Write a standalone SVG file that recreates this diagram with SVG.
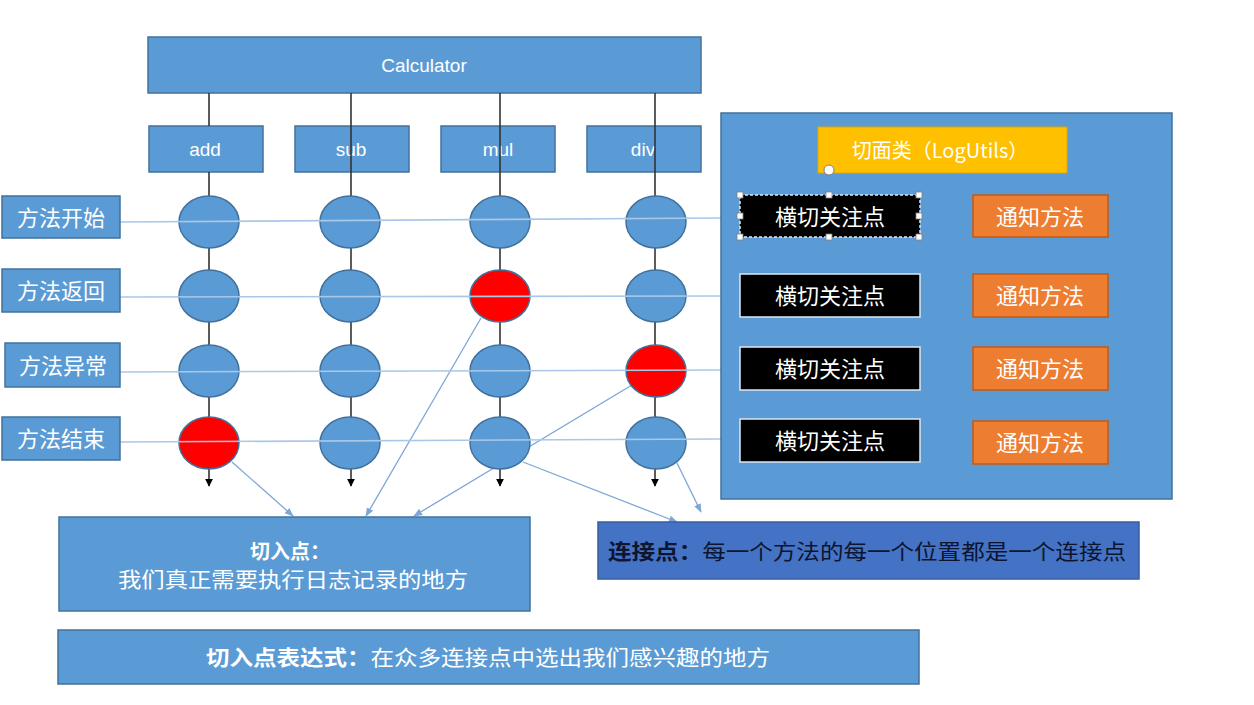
<svg xmlns="http://www.w3.org/2000/svg" width="1254" height="705" viewBox="0 0 1254 705">
<defs>
<style>
.blue{fill:#5B9BD5;stroke:#41719C;stroke-width:1.5}
.ell{fill:#5B9BD5;stroke:#41719C;stroke-width:1.5}
.red{fill:#FF0000;stroke:#41719C;stroke-width:1.5}
.blk{fill:#000000;stroke:#DDE8F5;stroke-width:1.5}
.org{fill:#ED7D31;stroke:#C55A11;stroke-width:1.5}
.vl{stroke:#333333;stroke-width:1.6;fill:none}
.hl{stroke:#A9C8E8;stroke-width:1.6;fill:none}
.al{stroke:#7EA6D6;stroke-width:1.3;fill:none}
.t{font-family:"Noto Sans CJK SC","Liberation Sans",sans-serif;fill:#FFFFFF;text-anchor:middle;dominant-baseline:central}
.en{font-family:"Liberation Sans","Noto Sans",sans-serif;fill:#FFFFFF;text-anchor:middle;dominant-baseline:central;font-size:19px}
.h{fill:#FFFFFF;stroke:#7F7F7F;stroke-width:0.8}
</style>
<marker id="ab" viewBox="0 0 10 10" refX="9" refY="5" markerWidth="8" markerHeight="8" orient="auto" markerUnits="userSpaceOnUse"><path d="M0,0 L10,5 L0,10 z" fill="#000"/></marker>
<marker id="ai" viewBox="0 0 10 10" refX="9" refY="5" markerWidth="9" markerHeight="9" orient="auto" markerUnits="userSpaceOnUse"><path d="M0,1 L10,5 L0,9 z" fill="#7EA6D6"/></marker>
</defs>
<rect width="1254" height="705" fill="#FFFFFF"/>

<g id="calculator"><rect class="blue" x="148" y="37" width="553" height="56"/><text class="en" x="424" y="65">Calculator</text></g>
<g id="add"><rect class="blue" x="149" y="126" width="114" height="46"/><text class="en" x="205" y="149">add</text></g>
<g id="sub"><rect class="blue" x="295" y="126" width="114" height="46"/><text class="en" x="351" y="149">sub</text></g>
<g id="mul"><rect class="blue" x="441" y="126" width="114" height="46"/><text class="en" x="498" y="149">mul</text></g>
<g id="div"><rect class="blue" x="587" y="126" width="114" height="46"/><text class="en" x="643" y="149">div</text></g>

<g id="connectors">
<line class="vl" x1="209" y1="93" x2="209" y2="126"/>
<line class="vl" x1="209" y1="172" x2="209" y2="486" marker-end="url(#ab)"/>
<line class="vl" x1="351" y1="93" x2="351" y2="486" marker-end="url(#ab)"/>
<line class="vl" x1="500" y1="93" x2="500" y2="486" marker-end="url(#ab)"/>
<line class="vl" x1="655" y1="93" x2="655" y2="486" marker-end="url(#ab)"/>
<line class="al" x1="232" y1="462" x2="293" y2="516" marker-end="url(#ai)"/>
<line class="al" x1="481" y1="318" x2="366" y2="516" marker-end="url(#ai)"/>
<line class="al" x1="632" y1="385" x2="414" y2="516" marker-end="url(#ai)"/>
<line class="al" x1="523" y1="462" x2="677" y2="522" marker-end="url(#ai)"/>
<line class="al" x1="677" y1="463" x2="701" y2="512" marker-end="url(#ai)"/>
</g>

<g id="joinpoints">
<ellipse class="ell" cx="209" cy="222" rx="30" ry="26"/>
<ellipse class="ell" cx="350" cy="222" rx="30" ry="26"/>
<ellipse class="ell" cx="500" cy="222" rx="30" ry="26"/>
<ellipse class="ell" cx="656" cy="222" rx="30" ry="26"/>
<ellipse class="ell" cx="209" cy="296" rx="30" ry="26"/>
<ellipse class="ell" cx="350" cy="296" rx="30" ry="26"/>
<ellipse class="red" cx="500" cy="296" rx="30" ry="26"/>
<ellipse class="ell" cx="656" cy="296" rx="30" ry="26"/>
<ellipse class="ell" cx="209" cy="371" rx="30" ry="26"/>
<ellipse class="ell" cx="350" cy="371" rx="30" ry="26"/>
<ellipse class="ell" cx="500" cy="371" rx="30" ry="26"/>
<ellipse class="red" cx="656" cy="371" rx="30" ry="26"/>
<ellipse class="red" cx="209" cy="443" rx="30" ry="26"/>
<ellipse class="ell" cx="350" cy="443" rx="30" ry="26"/>
<ellipse class="ell" cx="500" cy="443" rx="30" ry="26"/>
<ellipse class="ell" cx="656" cy="443" rx="30" ry="26"/>
</g>

<g id="rowlines">
<line class="hl" x1="120" y1="222" x2="721" y2="218"/>
<line class="hl" x1="120" y1="297" x2="721" y2="296"/>
<line class="hl" x1="120" y1="372" x2="721" y2="370"/>
<line class="hl" x1="120" y1="442" x2="721" y2="439"/>
</g>

<g id="row-start"><rect class="blue" x="2" y="196" width="118" height="42"/><text class="t" x="61" y="216" font-size="22">方法开始</text></g>
<g id="row-return"><rect class="blue" x="2" y="269" width="118" height="43"/><text class="t" x="61" y="289" font-size="22">方法返回</text></g>
<g id="row-exception"><rect class="blue" x="5" y="343" width="115" height="44"/><text class="t" x="63" y="364" font-size="22">方法异常</text></g>
<g id="row-end"><rect class="blue" x="2" y="417" width="118" height="43"/><text class="t" x="61" y="437" font-size="22">方法结束</text></g>

<g id="aspect-panel"><rect class="blue" x="721" y="113" width="451" height="386"/></g>
<g id="aspect-class"><rect x="818" y="127" width="249" height="46" fill="#FFC000" stroke="#E0A800" stroke-width="1"/><text class="t" x="940" y="149" font-size="20">切面类（LogUtils）</text>
<circle cx="829" cy="170" r="5" fill="#FFFFFF" stroke="#7F7F7F" stroke-width="1"/></g>

<g id="concern-1"><rect class="blk" x="740" y="195" width="180" height="42" stroke-dasharray="3 2"/><text class="t" x="830" y="215" font-size="22">横切关注点</text>
<rect class="h" x="737" y="192" width="6" height="6"/><rect class="h" x="826" y="192" width="6" height="6"/><rect class="h" x="916" y="192" width="6" height="6"/>
<rect class="h" x="737" y="213" width="6" height="6"/><rect class="h" x="916" y="213" width="6" height="6"/>
<rect class="h" x="737" y="234" width="6" height="6"/><rect class="h" x="826" y="234" width="6" height="6"/><rect class="h" x="916" y="234" width="6" height="6"/></g>
<g id="concern-2"><rect class="blk" x="740" y="274" width="180" height="43"/><text class="t" x="830" y="294" font-size="22">横切关注点</text></g>
<g id="concern-3"><rect class="blk" x="740" y="347" width="180" height="43"/><text class="t" x="830" y="367" font-size="22">横切关注点</text></g>
<g id="concern-4"><rect class="blk" x="740" y="419" width="180" height="43"/><text class="t" x="830" y="439" font-size="22">横切关注点</text></g>

<g id="advice-1"><rect class="org" x="973" y="195" width="135" height="42"/><text class="t" x="1040" y="215" font-size="22">通知方法</text></g>
<g id="advice-2"><rect class="org" x="973" y="274" width="135" height="43"/><text class="t" x="1040" y="294" font-size="22">通知方法</text></g>
<g id="advice-3"><rect class="org" x="973" y="347" width="135" height="43"/><text class="t" x="1040" y="367" font-size="22">通知方法</text></g>
<g id="advice-4"><rect class="org" x="973" y="421" width="135" height="43"/><text class="t" x="1040" y="441" font-size="22">通知方法</text></g>

<g id="pointcut"><rect class="blue" x="59" y="517" width="471" height="94"/>
<text class="t" x="290" y="550" font-size="20" font-weight="bold">切入点：</text>
<text class="t" x="293" y="578" font-size="21" textLength="350" lengthAdjust="spacingAndGlyphs">我们真正需要执行日志记录的地方</text></g>

<g id="joinpoint"><rect x="598" y="522" width="541" height="57" fill="#4472C4" stroke="#3A5F9F" stroke-width="1.5"/>
<text x="608" y="550" font-family="'Noto Sans CJK SC','Liberation Sans',sans-serif" font-size="21" fill="#0D1530" dominant-baseline="central" textLength="518" lengthAdjust="spacingAndGlyphs"><tspan font-weight="bold">连接点：</tspan>每一个方法的每一个位置都是一个连接点</text></g>

<g id="pointcut-expression"><rect class="blue" x="58" y="630" width="861" height="54"/>
<text x="206" y="656" font-family="'Noto Sans CJK SC','Liberation Sans',sans-serif" font-size="21" fill="#FFFFFF" dominant-baseline="central" textLength="564" lengthAdjust="spacingAndGlyphs"><tspan font-weight="bold">切入点表达式：</tspan>在众多连接点中选出我们感兴趣的地方</text></g>
</svg>
